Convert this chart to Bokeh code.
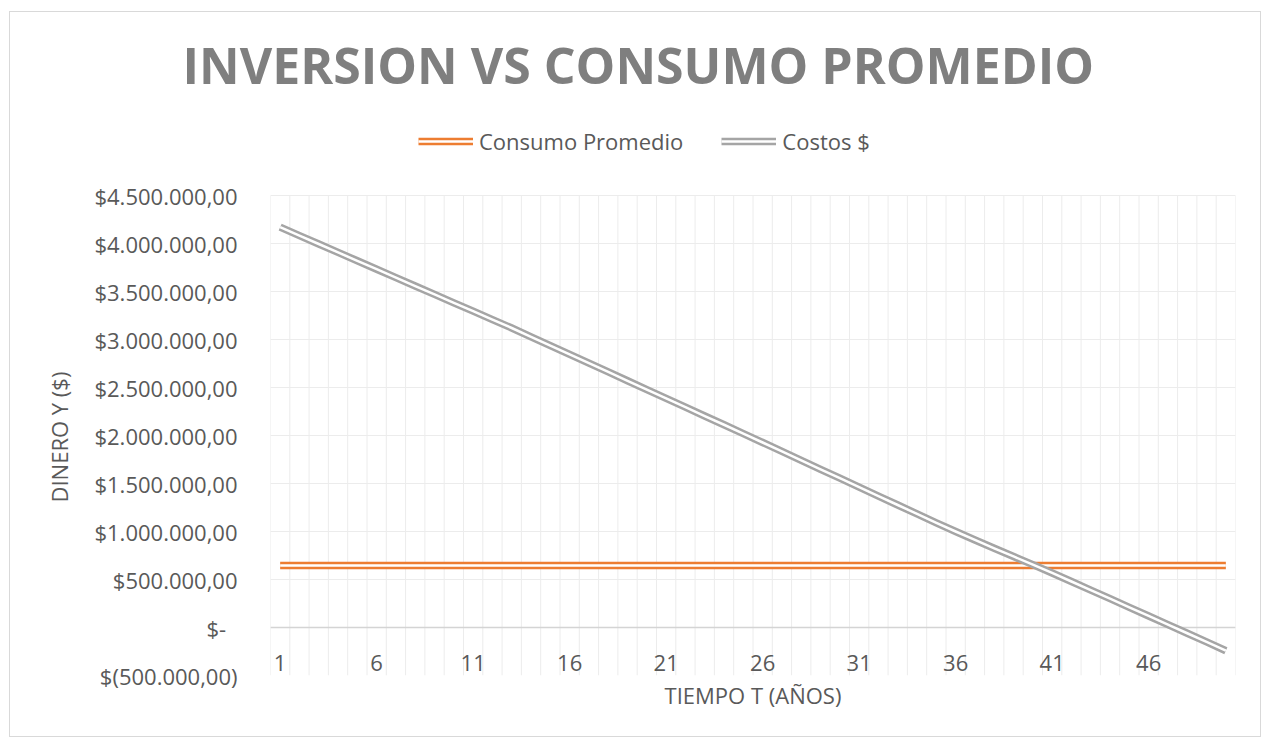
from bokeh.plotting import figure
from bokeh.models import (FixedTicker, CustomJSTickFormatter, Legend, LegendItem, Grid,
                          LinearAxis, Range1d, ColumnDataSource, Title)
from bokeh.embed import file_html
from bokeh.resources import INLINE

# ---- data ----
years = list(range(1, 51))
costos = [4170000, 4082000, 3995000, 3907000, 3820000, 3732000, 3645000, 3557000, 3470000, 3382000,
          3295000, 3207000, 3120000, 3028000, 2937000, 2845000, 2753000, 2662000, 2570000, 2478000,
          2387000, 2295000, 2203000, 2112000, 2020000, 1927000, 1834000, 1741000, 1648000, 1555000,
          1462000, 1369000, 1276000, 1183000, 1090000, 1000000, 912000, 825000, 740000, 655000,
          568000, 479000, 390000, 300000, 210000, 120000, 30000, -60000, -150000, -242000]
consumo_value = 645000
consumo_promedio = [consumo_value] * len(years)
x_tick_labels = [1, 6, 11, 16, 21, 26, 31, 36, 41, 46]
y_ticks = [-500000, 0, 500000, 1000000, 1500000, 2000000, 2500000, 3000000, 3500000, 4000000, 4500000]

TEXT = "#595959"
FONT = "Open Sans"
FS = "22px"
GRID = "#ececec"

# layout: frame runs from the title's bottom to the axis minimum; the plotted
# value band (-500k .. 4.5M) occupies its lower 480 px, the legend sits above it
FRAME_H, BAND_H = 560, 480
y_lo, y_hi = y_ticks[0], y_ticks[-1]
y_top = y_hi + (FRAME_H - BAND_H) / BAND_H * (y_hi - y_lo)

p = figure(width=1252, height=726, x_range=Range1d(0.5, 50.5), y_range=Range1d(y_lo, y_top),
           output_backend="svg", toolbar_location=None,
           min_border_left=260, min_border_right=27, min_border_top=103, min_border_bottom=63,
           background_fill_color="white", border_fill_color="white", outline_line_color=None)
p.styles = {"margin-left": "9px", "margin-top": "11px", "border": "1px solid #d9d9d9"}

src = ColumnDataSource(dict(year=years, consumo=consumo_promedio, costos=costos))

# grids (vertical lines at category boundaries, limited to the value band)
p.xgrid.visible = False
bounds_x = [i + 0.5 for i in range(0, 51)]
p.segment(x0=bounds_x, y0=[y_lo] * len(bounds_x), x1=bounds_x, y1=[y_hi] * len(bounds_x),
          line_color=GRID, line_width=1, level="underlay")
p.ygrid.ticker = FixedTicker(ticks=y_ticks)
p.ygrid.grid_line_color = GRID
zero_line = Grid(dimension=1, ticker=FixedTicker(ticks=[0]), grid_line_color="#d4d4d4",
                 grid_line_width=1.5)
p.add_layout(zero_line)

# x axis labels at y = 0
xa = p.xaxis[0]
xa.fixed_location = 0
xa.ticker = FixedTicker(ticks=x_tick_labels)
xa.axis_line_color = None
xa.major_tick_line_color = None
xa.minor_tick_line_color = None
xa.major_label_standoff = 21
xa.major_label_text_font = FONT
xa.major_label_text_font_size = FS
xa.major_label_text_color = TEXT

lab_axis = LinearAxis(axis_label="TIEMPO T (AÑOS)", ticker=FixedTicker(ticks=[]),
                      axis_line_color=None, major_tick_line_color=None, minor_tick_line_color=None,
                      major_label_text_font_size="0px", axis_label_standoff=4,
                      axis_label_text_font=FONT, axis_label_text_font_size=FS,
                      axis_label_text_font_style="normal", axis_label_text_color=TEXT)
p.add_layout(lab_axis, "below")

# y axis
ya = p.yaxis[0]
ya.bounds = (y_lo, y_hi)
ya.ticker = FixedTicker(ticks=y_ticks)
ya.formatter = CustomJSTickFormatter(code="""
    const v = Math.round(Math.abs(tick));
    if (v === 0) { return "$-\\u00a0\\u00a0"; }
    const s = v.toString().replace(/\\B(?=(\\d{3})+(?!\\d))/g, ".") + ",00";
    return tick < 0 ? "$(" + s + ")" : "$" + s;
""")
ya.axis_line_color = None
ya.major_tick_line_color = None
ya.minor_tick_line_color = None
ya.major_label_standoff = 27
ya.major_label_text_font = FONT
ya.major_label_text_font_size = FS
ya.major_label_text_color = TEXT

# y axis title, centred on the value band
y_title = Title(text="DINERO Y ($)", align="left", offset=173, standoff=35,
                text_font=FONT, text_font_size=FS, text_font_style="normal", text_color=TEXT)
p.add_layout(y_title, "left")

# double lines
r1 = p.line("year", "consumo", source=src, line_color="#ED7D31", line_width=7.5)
r2 = p.line("year", "consumo", source=src, line_color="white", line_width=2.5)
r3 = p.line("year", "costos", source=src, line_color="#A5A5A5", line_width=7.5, line_join="round")
r4 = p.line("year", "costos", source=src, line_color="white", line_width=2.5, line_join="round")

legend = Legend(items=[LegendItem(label="Consumo Promedio", renderers=[r1, r2]),
                       LegendItem(label="Costos $", renderers=[r3, r4])],
                orientation="horizontal", location=(148, 519),
                border_line_color=None, background_fill_alpha=0,
                glyph_width=55, glyph_height=20, label_standoff=6, spacing=38,
                padding=0, margin=0,
                label_text_font=FONT, label_text_font_size=FS, label_text_color=TEXT)
p.add_layout(legend)

p.title.text = "INVERSION VS CONSUMO PROMEDIO"
p.title.align = "left"
p.title.offset = -88
p.title.standoff = 33
p.title.text_font = FONT
p.title.text_font_size = "50px"
p.title.text_font_style = "bold"
p.title.text_color = "#7f7f7f"

open("out.html", "w").write(file_html(p, INLINE))
